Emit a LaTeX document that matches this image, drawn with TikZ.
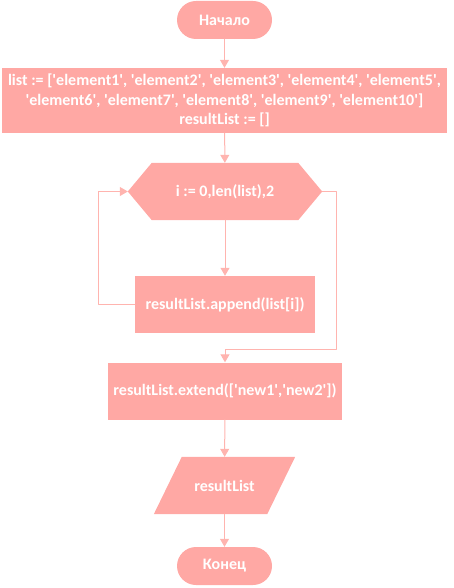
\documentclass[tikz,border=0pt]{standalone}
\usepackage{fontspec}
\newfontfamily\flowfont{Carlito}
\usetikzlibrary{arrows.meta,positioning}
\definecolor{blockfill}{HTML}{FFA8A4}
\definecolor{linecol}{HTML}{FFB4AF}
\pgfdeclarelayer{background}
\pgfsetlayers{background,main}
\newcommand{\sq}{\textquotesingle}

\begin{document}
\begin{tikzpicture}[line cap=round,line join=round,>={Triangle[length=8pt,width=9pt]},x=1pt,y=-1pt,
  every node/.style={font=\flowfont\bfseries\fontsize{16}{19.5}\selectfont,text=white,align=center,inner sep=0pt},
  term/.style={fill=blockfill,rounded corners=19pt,minimum width=95pt,minimum height=38pt},
  proc/.style={fill=blockfill,minimum height=57pt},
  flow/.style={draw=linecol,line width=1pt,->}]
\useasboundingbox (0,0) rectangle (454,588);
\node[term] (start) at (224.5,20) {Начало};
\node[proc,minimum width=445pt,minimum height=65pt] (init) at (224.5,100.5) {list := [\sq element1\sq, \sq element2\sq, \sq element3\sq, \sq element4\sq, \sq element5\sq,\\ \sq element6\sq, \sq element7\sq, \sq element8\sq, \sq element9\sq, \sq element10\sq]\\ resultList := []};
\node[minimum width=194pt,minimum height=57pt] (loop) at (225,191.5) {i := 0,len(list),2};
\node[proc,minimum width=180pt] (body) at (225,304.5) {resultList.append(list[i])};
\node[proc,minimum width=234pt] (ext) at (225,391) {resultList.extend([\sq new1\sq,\sq new2\sq])};
\node[minimum width=113pt,minimum height=57pt] (out) at (224.5,485.5) {resultList};
\node[term] (finish) at (224.5,566) {Конец};
% hexagon and parallelogram behind their texts
\begin{pgfonlayer}{background}
\fill[blockfill] (loop.west) -- ([xshift=24pt]loop.north west) -- ([xshift=-24pt]loop.north east) -- (loop.east) -- ([xshift=-24pt]loop.south east) -- ([xshift=24pt]loop.south west) -- cycle;
\fill[blockfill] ([xshift=14pt]out.north west) -- ([xshift=14pt]out.north east) -- ([xshift=-14pt]out.south east) -- ([xshift=-14pt]out.south west) -- cycle;
\end{pgfonlayer}
\draw[flow] (start) -- (init);
\draw[flow] (init) -- (loop);
\draw[flow] (loop) -- (body);
\draw[flow] (body.west) -- ++(-36,0) |- (loop.west);
\draw[flow] (loop.east) -- ++(14,0) -- ++(0,157.5) -| (ext.north);
\draw[flow] (ext) -- (out);
\draw[flow] (out) -- (finish);
\end{tikzpicture}
\end{document}
